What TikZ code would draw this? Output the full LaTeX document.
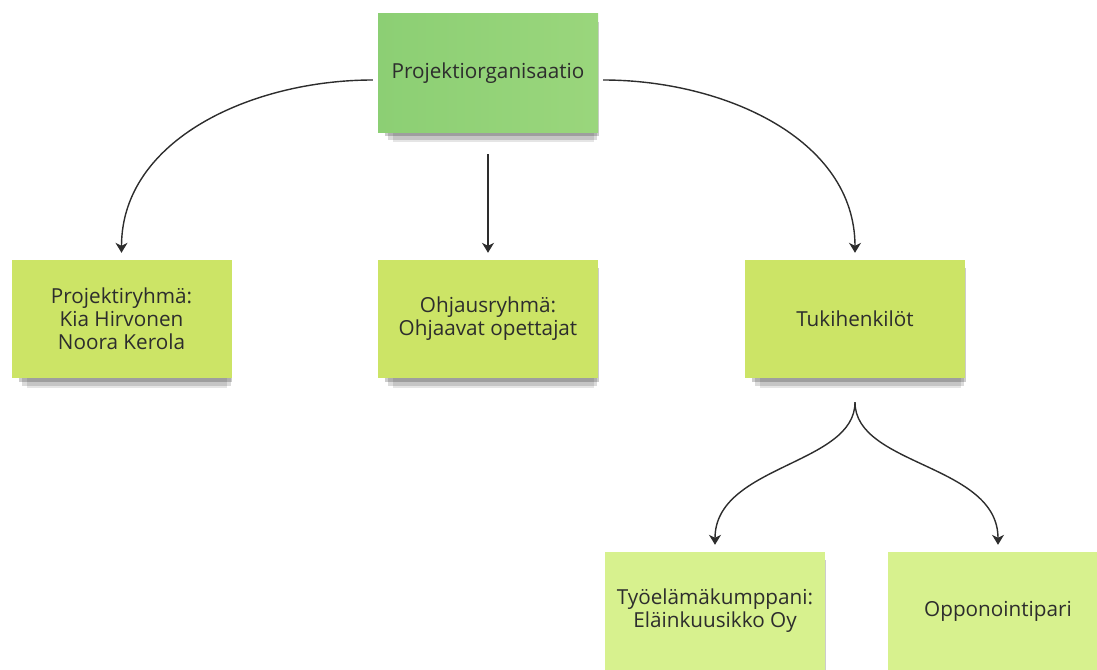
\documentclass[tikz,border=0pt]{standalone}
\usepackage{fontspec}
\setmainfont{Open Sans}
\usetikzlibrary{arrows.meta,shadows,positioning}
\definecolor{notegreen}{RGB}{140,207,116}
\definecolor{notegreenlight}{RGB}{154,214,124}
\definecolor{notelime}{RGB}{204,228,102}
\definecolor{notepale}{RGB}{215,241,142}
\definecolor{inkgray}{RGB}{45,45,45}

\tikzset{
    note/.style={rectangle, minimum width=220pt, minimum height=118pt, align=center,
        text=inkgray, font=\fontsize{20.7}{23}\selectfont,
        drop shadow={shadow xshift=6pt, shadow yshift=-17pt, shadow scale=0.91, opacity=0.10, fill=black},
        drop shadow={shadow xshift=5pt, shadow yshift=-11pt, shadow scale=0.95, opacity=0.14, fill=black},
        drop shadow={shadow xshift=4pt, shadow yshift=-6pt, shadow scale=0.97, opacity=0.20, fill=black}},
    link/.style={-{Stealth[length=10pt, width=12pt, inset=3pt]}, line width=1.4pt, draw=inkgray}
}

\begin{document}
\begin{tikzpicture}[x=1pt, y=1pt]
    \useasboundingbox (0,0) rectangle (1097,-669);

    % Top note
    \node[note, left color=notegreen, right color=notegreenlight] (org) at (488,-73) {Projektiorganisaatio};

    % Second row
    \node[note, fill=notelime] (ryhma) at (121.5,-319) {Projektiryhmä:\\Kia Hirvonen\\Noora Kerola};
    \node[note, fill=notelime] (ohjaus) at (488,-319) {Ohjausryhmä:\\Ohjaavat opettajat};
    \node[note, fill=notelime] (tuki) at (855,-319) {Tukihenkilöt};

    % Bottom row
    \node[note, fill=notepale] (kumppani) at (715,-611) {Työelämäkumppani:\\Eläinkuusikko Oy};
    \node[note, fill=notepale] (oppo) at (998,-611) {Opponointipari};

    % Connections
    \draw[link, shorten >=7pt] ([xshift=-5pt, yshift=-7pt]org.west) to[out=180, in=90] (ryhma.north);
    \draw[link, shorten <=22pt, shorten >=7pt] (org.south) -- (ohjaus.north);
    \draw[link, shorten >=7pt] ([xshift=5pt, yshift=-7pt]org.east) to[out=0, in=90] (tuki.north);
    \foreach \t in {kumppani, oppo} {
        \draw[link, shorten <=24pt, shorten >=7pt] (tuki.south) to[out=-90, in=90] (\t.north);
    }
\end{tikzpicture}
\end{document}
